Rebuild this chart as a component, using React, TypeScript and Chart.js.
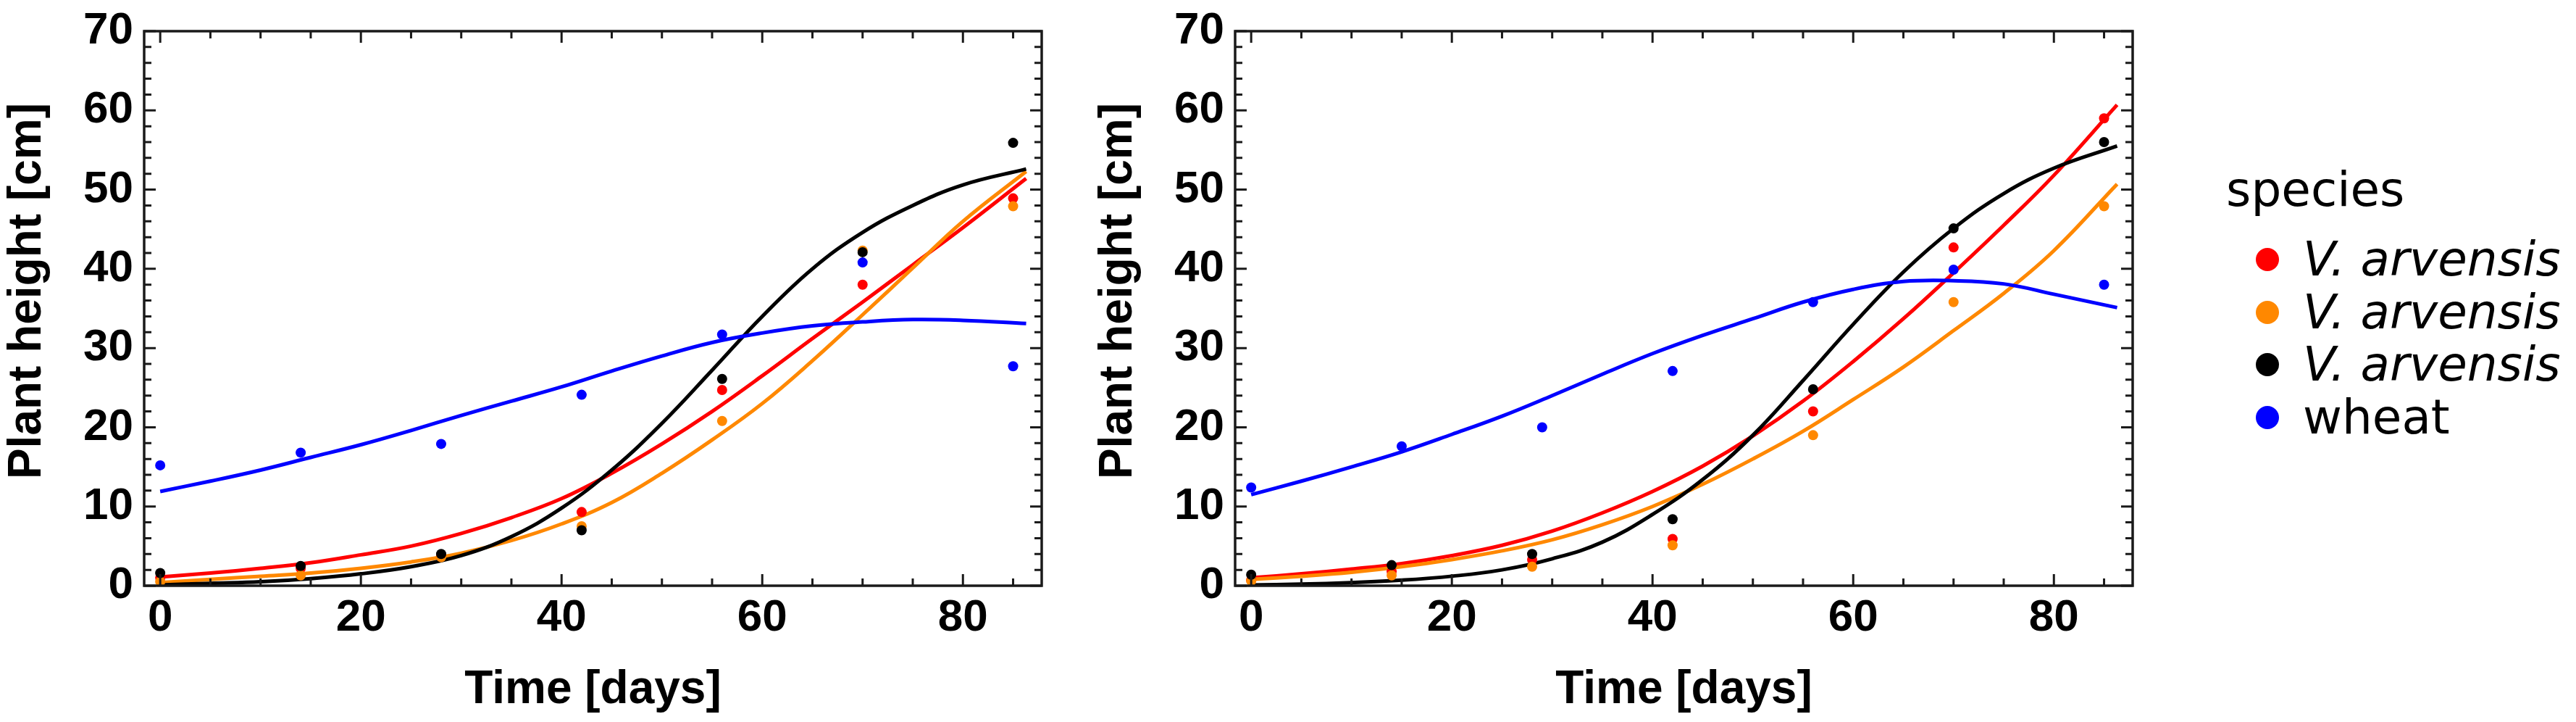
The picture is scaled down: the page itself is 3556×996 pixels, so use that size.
import React, { useEffect, useRef } from "react";
import Chart from "chart.js/auto";

const fitDays = [0, 5, 10, 15, 20, 25, 30, 35, 40, 45, 50, 55, 60, 65, 70, 75, 80, 86.3];

// left panel, fitted curves
const fitLeftRed = [1.1, 1.6, 2.2, 2.9, 3.9, 5.0, 6.6, 8.6, 11.0, 14.2, 17.9, 22.0, 26.5, 31.2, 35.8, 40.5, 45.2, 51.4];
const fitLeftOrange = [0.4, 0.8, 1.2, 1.6, 2.2, 3.0, 4.1, 5.7, 7.8, 10.5, 14.2, 18.4, 23.0, 28.4, 34.2, 40.1, 46.0, 52.3];
const fitLeftBlack = [0.1, 0.3, 0.5, 0.9, 1.5, 2.4, 3.8, 6.2, 9.8, 14.6, 20.5, 27.2, 34.0, 40.0, 44.6, 48.0, 50.6, 52.6];
const fitLeftBlue = [11.9, 13.2, 14.6, 16.2, 17.8, 19.6, 21.5, 23.3, 25.1, 27.1, 29.0, 30.7, 31.9, 32.8, 33.3, 33.6, 33.5, 33.1];

// right panel, fitted curves
const fitRightRed = [1.0, 1.5, 2.1, 2.8, 3.8, 5.1, 6.9, 9.2, 11.9, 15.1, 18.9, 23.3, 28.3, 33.7, 39.5, 45.5, 51.8, 60.7];
const fitRightOrange = [0.8, 1.2, 1.7, 2.4, 3.3, 4.4, 5.8, 7.7, 10.0, 12.8, 16.0, 19.5, 23.5, 27.6, 32.2, 36.9, 42.3, 50.7];
const fitRightBlack = [0.1, 0.2, 0.4, 0.7, 1.2, 2.0, 3.4, 5.5, 9.0, 13.4, 19.0, 25.9, 33.0, 39.6, 45.1, 49.5, 52.7, 55.5];
const fitRightBlue = [11.5, 13.2, 15.0, 16.9, 19.1, 21.4, 24.0, 26.7, 29.3, 31.6, 33.7, 35.8, 37.4, 38.4, 38.5, 38.1, 36.8, 35.1];

// measured heights
const sampleDays = [0, 14, 28, 42, 56, 70, 85];
const wheatDaysRight = [0, 15, 29, 42, 56, 70, 85];

const ptsLeftRed = [1.0, 2.2, 3.8, 9.3, 24.7, 38.0, 48.9];
const ptsLeftOrange = [0.5, 1.3, 3.6, 7.5, 20.8, 42.3, 47.9];
const ptsLeftBlack = [1.6, 2.5, 4.0, 7.0, 26.1, 42.1, 55.9];
const ptsLeftBlue = [15.2, 16.8, 17.9, 24.1, 31.7, 40.8, 27.7];

const ptsRightRed = [0.7, 1.8, 3.3, 5.9, 22.0, 42.7, 59.0];
const ptsRightOrange = [0.6, 1.3, 2.4, 5.1, 19.0, 35.8, 47.9];
const ptsRightBlack = [1.4, 2.6, 4.0, 8.4, 24.8, 45.1, 56.0];
const ptsRightBlue = [12.4, 17.6, 20.0, 27.1, 35.8, 39.9, 38.0];

const seriesNames = ["V. arvensis", "V. arvensis", "V. arvensis", "wheat"];
const seriesItalic = [true, true, true, false];
const seriesColors = ["#ff0000", "#ff8800", "#000000", "#0000ff"];

const xTickValues = [0, 20, 40, 60, 80];
const yTickValues = [0, 10, 20, 30, 40, 50, 60, 70];
const xMinorTicks = Array.from({ length: 18 }, (_, i) => i * 5);
const yMinorTicks = Array.from({ length: 36 }, (_, i) => i * 2);

const yTitle = "Plant height [cm]";
const xTitle = "Time [days]";

const fontFamily = "'Liberation Sans', Arial, sans-serif";
const tickFont = { family: fontFamily, weight: "bold" as const, size: 62 };
const titleFont = { family: fontFamily, weight: "bold" as const, size: 64 };

// inward ticks on all four sides, like a Mathematica frame, plus the y title
// (drawn here because it sits a little above the axis centre)
const framePlugin = {
  id: "frame",
  afterDraw(chart: Chart) {
    const { ctx, chartArea: a } = chart;
    const x = chart.scales.x;
    const y = chart.scales.y;
    ctx.save();
    ctx.strokeStyle = "#1a1a1a";
    ctx.lineWidth = 3;
    ctx.beginPath();
    xMinorTicks.forEach((v) => {
      const px = x.getPixelForValue(v);
      const len = v % 20 === 0 ? 16 : 10;
      ctx.moveTo(px, a.bottom);
      ctx.lineTo(px, a.bottom - len);
      ctx.moveTo(px, a.top);
      ctx.lineTo(px, a.top + len);
    });
    yMinorTicks.forEach((v) => {
      const py = y.getPixelForValue(v);
      const len = v % 10 === 0 ? 16 : 10;
      ctx.moveTo(a.left, py);
      ctx.lineTo(a.left + len, py);
      ctx.moveTo(a.right, py);
      ctx.lineTo(a.right - len, py);
    });
    ctx.stroke();
    ctx.lineWidth = 3.5;
    ctx.strokeRect(a.left, a.top, a.right - a.left, a.bottom - a.top);

    ctx.translate(38.4, (a.top + a.bottom) / 2 - 24);
    ctx.rotate(-Math.PI / 2);
    ctx.fillStyle = "#000";
    ctx.font = `bold ${titleFont.size}px ${fontFamily}`;
    ctx.textAlign = "center";
    ctx.textBaseline = "middle";
    ctx.fillText(yTitle, 0, 0);
    ctx.restore();
  },
};

interface PanelProps {
  fits: number[][];
  points: number[][];
  pointDays: number[][];
}

const Panel: React.FC<PanelProps> = ({ fits, points, pointDays }) => {
  const chartRef = useRef<HTMLCanvasElement>(null);

  useEffect(() => {
    if (!chartRef.current) return;

    const curveSets = fits.map((fit, i) => ({
      label: seriesNames[i] + " fit",
      data: fitDays.map((d, k) => ({ x: d, y: fit[k] })),
      showLine: true,
      borderColor: seriesColors[i],
      borderWidth: 5,
      pointRadius: 0,
      tension: 0.4,
      order: 14 - i,
    }));
    const pointSets = points.map((vals, i) => ({
      label: seriesNames[i],
      data: vals.map((v, k) => ({ x: pointDays[i][k], y: v })),
      showLine: false,
      pointRadius: 7,
      pointBorderWidth: 0,
      pointBackgroundColor: seriesColors[i],
      backgroundColor: seriesColors[i],
      order: 4 - i,
    }));

    const chart = new Chart(chartRef.current, {
      type: "scatter",
      data: { datasets: [...curveSets, ...pointSets] },
      options: {
        animation: false,
        responsive: false,
        devicePixelRatio: 1,
        layout: { padding: { top: 43, right: 42, left: 0, bottom: 0 } },
        plugins: {
          legend: { display: false },
          tooltip: { enabled: false },
        },
        scales: {
          x: {
            type: "linear",
            min: -1.6,
            max: 87.85,
            grid: { display: false, drawTicks: false },
            border: { display: false },
            ticks: { font: tickFont, color: "#000", padding: 8 },
            title: {
              display: true,
              text: xTitle,
              font: titleFont,
              color: "#000",
              padding: { top: 0, bottom: 5 },
            },
            afterBuildTicks: (s: any) => {
              s.ticks = xTickValues.map((v) => ({ value: v }));
            },
            afterFit: (s: any) => {
              s.height = 188;
              s.paddingLeft = 0;
              s.paddingRight = 0;
            },
          },
          y: {
            type: "linear",
            min: 0,
            max: 70,
            grid: { display: false, drawTicks: false },
            border: { display: false },
            ticks: { font: tickFont, color: "#000", padding: 15 },
            title: { display: false },
            afterBuildTicks: (s: any) => {
              s.ticks = yTickValues.map((v) => ({ value: v }));
            },
            afterFit: (s: any) => {
              s.width = 199;
              s.paddingTop = 0;
              s.paddingBottom = 0;
            },
          },
        },
      },
      plugins: [framePlugin],
    });

    return () => {
      chart.destroy();
    };
  }, [fits, points, pointDays]);

  return <canvas ref={chartRef} width={1480} height={996} style={{ width: 1480, height: 996 }} />;
};

const leftFits = [fitLeftRed, fitLeftOrange, fitLeftBlack, fitLeftBlue];
const leftPoints = [ptsLeftRed, ptsLeftOrange, ptsLeftBlack, ptsLeftBlue];
const leftDays = [sampleDays, sampleDays, sampleDays, sampleDays];
const rightFits = [fitRightRed, fitRightOrange, fitRightBlack, fitRightBlue];
const rightPoints = [ptsRightRed, ptsRightOrange, ptsRightBlack, ptsRightBlue];
const rightDays = [sampleDays, sampleDays, sampleDays, wheatDaysRight];

const App: React.FC = () => {
  return (
    <div style={{ position: "absolute", left: 0, top: 0, width: 3556, height: 996, background: "#fff", overflow: "hidden" }}>
      <div style={{ position: "absolute", left: 0, top: 0 }}>
        <Panel fits={leftFits} points={leftPoints} pointDays={leftDays} />
      </div>
      <div style={{ position: "absolute", left: 1506, top: 0 }}>
        <Panel fits={rightFits} points={rightPoints} pointDays={rightDays} />
      </div>

      {/* legend */}
      <div style={{ position: "absolute", left: 3073, top: 226, fontFamily: "'DejaVu Sans', sans-serif", fontSize: 66, lineHeight: "72px", color: "#000" }}>
        species
      </div>
      {seriesNames.map((name, i) => (
        <div key={i} style={{ position: "absolute", left: 3114, top: 322 + i * 72.5, height: 72, fontFamily: "'DejaVu Sans', sans-serif", fontSize: 66, lineHeight: "72px", color: "#000", whiteSpace: "nowrap" }}>
          <span style={{ position: "absolute", left: 0, top: 20, width: 32, height: 32, borderRadius: "50%", background: seriesColors[i] }} />
          <span style={{ position: "absolute", left: 65, top: 0, fontStyle: seriesItalic[i] ? "italic" : "normal" }}>{name}</span>
        </div>
      ))}
    </div>
  );
};

export default App;
